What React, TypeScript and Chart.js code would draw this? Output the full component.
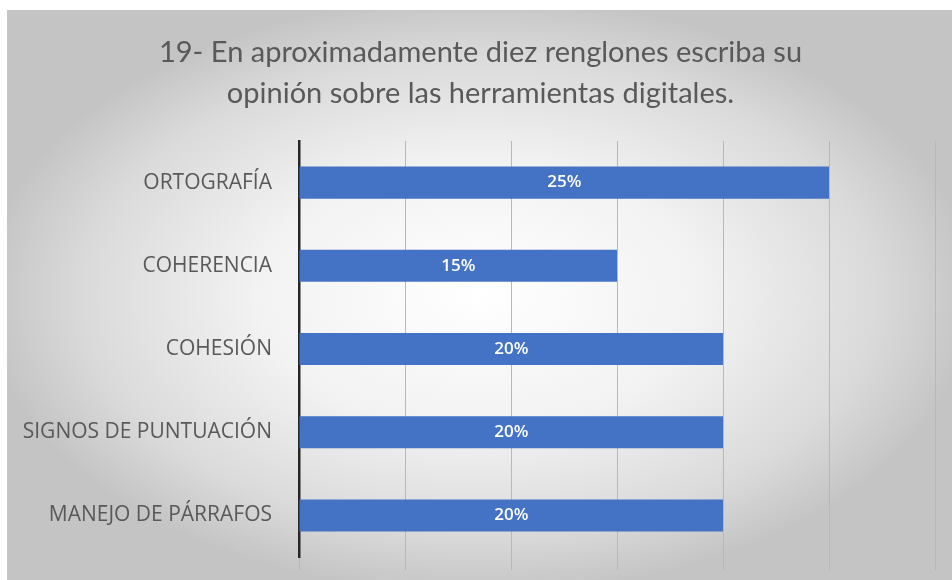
import React, { useEffect, useRef } from "react";
import { Chart, registerables } from "chart.js";

Chart.register(...registerables);

const TITLE_LINES = [
  "19- En aproximadamente diez renglones escriba su",
  "opinión sobre las herramientas digitales.",
];
const CATEGORIES = [
  "ORTOGRAFÍA",
  "COHERENCIA",
  "COHESIÓN",
  "SIGNOS DE PUNTUACIÓN",
  "MANEJO DE PÁRRAFOS",
];
const VALUES = [25, 15, 20, 20, 20];
const X_MIN = 0;
const X_MAX = 30;
const X_STEP = 5;

const TITLE_FONT = "Lato, 'Open Sans', sans-serif";
const LABEL_FONT = "'Open Sans', Lato, sans-serif";

const bgPlugin = {
  id: "bgPlugin",
  beforeDraw(chart: any) {
    const ctx = chart.ctx as CanvasRenderingContext2D;
    const W = chart.width;
    const H = chart.height;
    ctx.save();
    ctx.fillStyle = "#ffffff";
    ctx.fillRect(0, 0, W, H);
    const x0 = 7, y0 = 10;
    const w = W - x0, h = H - y0;
    const cx = x0 + w / 2, cy = y0 + h / 2;
    ctx.beginPath();
    ctx.rect(x0, y0, w, h);
    ctx.clip();
    ctx.translate(cx, cy);
    ctx.scale(1, h / w);
    const r = w / 2;
    const g = ctx.createRadialGradient(0, 0, 0, 0, 0, r * 1.05);
    g.addColorStop(0, "#ffffff");
    g.addColorStop(0.45, "#f2f2f2");
    g.addColorStop(0.8, "#dadada");
    g.addColorStop(1, "#c4c4c4");
    ctx.fillStyle = g;
    ctx.fillRect(-r * 1.2, -r * 1.2, r * 2.4, r * 2.4);
    ctx.restore();
  },
  afterLayout(chart: any) {
    // let the category labels use the full left margin (no clipping at the padding)
    const y = chart.scales.y;
    if (y) y.left = 0;
  },
};

const labelPlugin = {
  id: "barLabels",
  afterDatasetsDraw(chart: any) {
    const ctx = chart.ctx as CanvasRenderingContext2D;
    const meta = chart.getDatasetMeta(0);
    const data = chart.data.datasets[0].data as number[];
    ctx.save();
    ctx.fillStyle = "#ffffff";
    ctx.font = `600 17px ${LABEL_FONT}`;
    ctx.textAlign = "center";
    ctx.textBaseline = "middle";
    meta.data.forEach((bar: any, i: number) => {
      const x = (bar.x + bar.base) / 2;
      ctx.fillText(`${data[i]}%`, x, bar.y);
    });
    ctx.restore();
  },
};

export default function App() {
  const ref = useRef<HTMLCanvasElement | null>(null);
  useEffect(() => {
    if (!ref.current) return;
    const chart = new Chart(ref.current, {
      type: "bar",
      data: {
        labels: CATEGORIES,
        datasets: [
          {
            data: VALUES,
            backgroundColor: "#4472C4",
            borderWidth: 0,
            categoryPercentage: 1,
            barPercentage: 0.385,
          },
        ],
      },
      options: {
        indexAxis: "y",
        animation: false,
        responsive: false,
        devicePixelRatio: 1,
        layout: { padding: { left: 26, right: 17, top: 0, bottom: 0 } },
        plugins: {
          legend: { display: false },
          tooltip: { enabled: false },
          title: {
            display: true,
            text: TITLE_LINES,
            color: "#595959",
            font: { family: TITLE_FONT, size: 29, weight: "normal", lineHeight: 1.414 },
            padding: { top: 32, bottom: 27 },
          },
        },
        scales: {
          x: {
            min: X_MIN,
            max: X_MAX,
            ticks: { stepSize: X_STEP, display: false },
            grid: { color: "#b8b8b8", lineWidth: 1, tickLength: 13, drawTicks: true },
            border: { display: false },
            afterFit(scale: any) {
              scale.height = 23;
            },
          },
          y: {
            grid: { display: true, drawOnChartArea: false, color: "rgba(0,0,0,0)", drawTicks: true, tickLength: 27 },
            border: { display: true, color: "#262626", width: 2.5 },
            ticks: {
              color: "#595959",
              padding: 0,
              font: { family: LABEL_FONT, size: 21 },
            },
            afterFit(scale: any) {
              scale.width = 273;
            },
          },
        },
      },
      plugins: [bgPlugin, labelPlugin],
    } as any);
    return () => chart.destroy();
  }, []);
  return (
    <div style={{ position: "fixed", left: 0, top: 0, width: 952, height: 580 }}>
      <canvas ref={ref} width={952} height={580} style={{ display: "block", width: 952, height: 580 }} />
    </div>
  );
}
